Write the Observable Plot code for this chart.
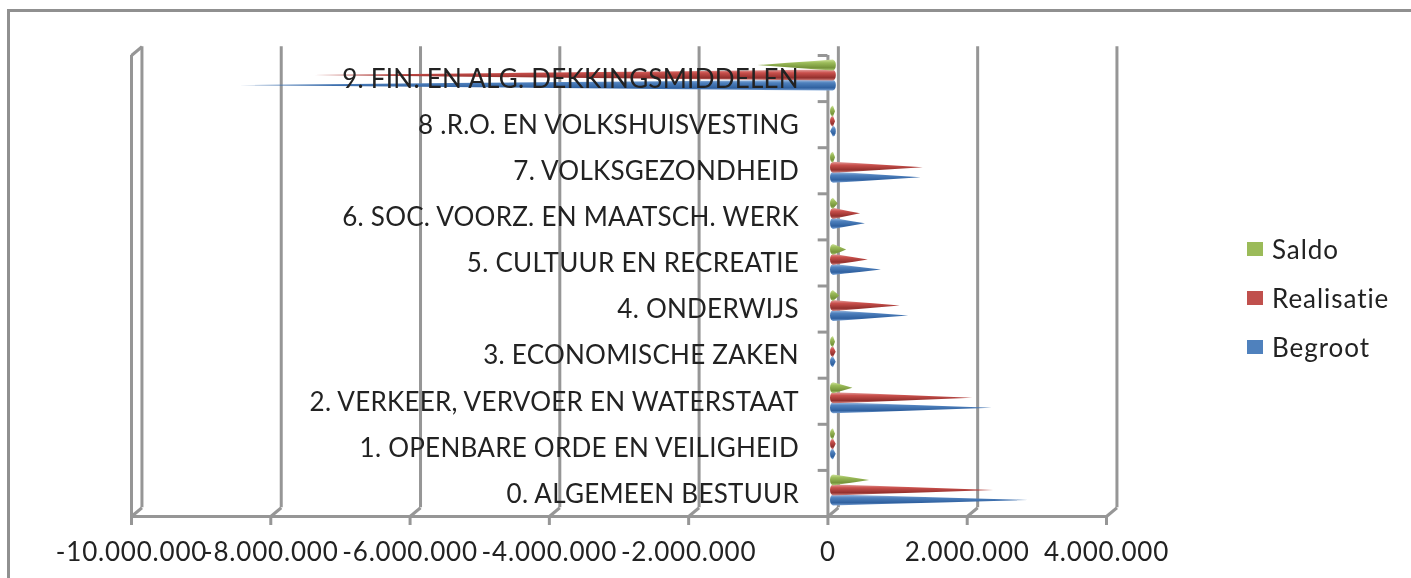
<!DOCTYPE html>
<html><head><meta charset="utf-8">
<script src="https://cdn.jsdelivr.net/npm/d3@7"></script>
<script src="https://cdn.jsdelivr.net/npm/@observablehq/plot@0.6"></script>
<style>
html,body{margin:0;padding:0;background:#fff;overflow:hidden}
#wrap{position:relative;width:1411px;height:578px;font-family:Lato,sans-serif;color:#222}
#frameTop{position:absolute;left:7px;top:9px;right:0;height:3px;background:#909090}
#frameLeft{position:absolute;left:7px;top:9px;bottom:0;width:3px;background:#909090}
.lg{position:absolute;left:1247px;display:flex;align-items:center;font-size:26px;letter-spacing:.95px;height:30px;filter:blur(.45px)}
.lg i{display:block;width:16px;height:14px;margin-right:9px}
svg{filter:blur(.55px)}
svg text{letter-spacing:.25px}
svg g[aria-label="x-axis tick label"] text{letter-spacing:.8px}
</style></head><body><div id="wrap"><div id="frameTop"></div><div id="frameLeft"></div></div>
<script>
const categories=["0. ALGEMEEN BESTUUR","1. OPENBARE ORDE EN VEILIGHEID","2. VERKEER, VERVOER EN WATERSTAAT","3. ECONOMISCHE ZAKEN","4. ONDERWIJS","5. CULTUUR EN RECREATIE","6. SOC. VOORZ. EN MAATSCH. WERK","7. VOLKSGEZONDHEID","8 .R.O. EN VOLKSHUISVESTING","9. FIN. EN ALG. DEKKINGSMIDDELEN"];
const begroot=[2800000,40000,2280000,40000,1080000,690000,460000,1260000,-40000,-8530000];
const realisatie=[2300000,40000,2000000,40000,960000,500000,390000,1290000,30000,-7450000];
const saldo=[520000,30000,280000,30000,90000,190000,70000,30000,30000,-1080000];
const xTicks=[-10000000,-8000000,-6000000,-4000000,-2000000,0,2000000,4000000];
const series=[{name:"Begroot",values:begroot,grad:"gB",offset:-1,color:"#4f81bd"},{name:"Realisatie",values:realisatie,grad:"gR",offset:0,color:"#c0504d"},{name:"Saldo",values:saldo,grad:"gS",offset:1,color:"#9bbb59"}];

const fmt=d3.formatLocale({decimal:",",thousands:".",grouping:[3],currency:["",""],minus:"-"}).format(",d");
const grey="#969696";
const xDepth=150000,yDepth=0.19;
const profile=[-1,-.75,-.4,0,.4,.75,1];
function cones(s){
  const pts=[];
  s.values.forEach((v,i)=>{
    const yc=i+.5+s.offset*.217;
    profile.forEach(t=>{
      pts.push({cat:i,y:yc-t*.12,
        x1:-Math.sign(v||1)*42000*Math.sqrt(1-t*t),
        x2:v*(1-Math.abs(t))});
    });
  });
  return Plot.areaX(pts,{x1:"x1",x2:"x2",y:"y",z:"cat",fill:`url(#${s.grad})`,dx:5.5,dy:-3,curve:"linear"});
}
const plot=Plot.plot({
  width:1411,height:578,
  marginLeft:131,marginRight:305,marginTop:55,marginBottom:62,
  style:{background:"transparent",overflow:"visible"},
  x:{domain:[-10000000,4000000]},
  y:{domain:[0,10],axis:null},
  marks:[
    Plot.ruleX(xTicks,{x:d=>d+xDepth,y1:yDepth,y2:10+yDepth,stroke:grey,strokeWidth:3}),
    Plot.link(xTicks,{x1:d=>d,x2:d=>d+xDepth,y1:0,y2:yDepth,stroke:grey,strokeWidth:3}),
    Plot.link([-10000000],{x1:d=>d,x2:d=>d+xDepth,y1:10,y2:10+yDepth,stroke:grey,strokeWidth:3}),
    Plot.ruleX([-10000000],{y1:0,y2:10,stroke:grey,strokeWidth:3}),
    Plot.ruleY([0],{stroke:grey,strokeWidth:3}),
    Plot.ruleX([0],{y1:0,y2:10,stroke:grey,strokeWidth:3}),
    Plot.ruleY(d3.range(11),{x1:-140000,x2:0,stroke:grey,strokeWidth:3}),
    ...series.map(cones),
    Plot.text(categories,{x:()=>0,y:(d,i)=>i+.5,text:d=>d,textAnchor:"end",dx:-29,dy:1,fontSize:26,fontFamily:"Lato, sans-serif",fill:"#222"}),
    Plot.axisX({ticks:xTicks,tickFormat:fmt,tickSize:9,tickPadding:17,stroke:grey,strokeWidth:3,fill:"#222",fontSize:26,fontFamily:"Lato, sans-serif",label:null})
  ]
});
const ns="http://www.w3.org/2000/svg";
const defs=document.createElementNS(ns,"defs");
const grads={gB:["#a9c4e6","#4f81bd","#2f609f","#7aa3d6"],gR:["#e6a3a1","#c9504c","#93302d","#d58a88"],gS:["#cfe39a","#9bbb59","#75933a","#b3cf7e"]};
for(const id in grads){
  const g=document.createElementNS(ns,"linearGradient");
  g.setAttribute("id",id);g.setAttribute("x1","0");g.setAttribute("y1","0");g.setAttribute("x2","0");g.setAttribute("y2","1");
  [[0,0],[.3,1],[.75,2],[1,3]].forEach(([o,c])=>{const s=document.createElementNS(ns,"stop");s.setAttribute("offset",o);s.setAttribute("stop-color",grads[id][c]);g.appendChild(s);});
  defs.appendChild(g);
}
plot.insertBefore(defs,plot.firstChild);
plot.style.position="absolute";plot.style.left="0";plot.style.top="0";
const wrap=document.getElementById("wrap");
wrap.appendChild(plot);
[["Saldo","#9bbb59",234],["Realisatie","#c0504d",283],["Begroot","#4f81bd",332]].forEach(([n,c,t])=>{
  const d=document.createElement("div");d.className="lg";d.style.top=t+"px";
  const i=document.createElement("i");i.style.background=c;d.appendChild(i);
  d.appendChild(document.createTextNode(n));wrap.appendChild(d);
});
</script></body></html>
